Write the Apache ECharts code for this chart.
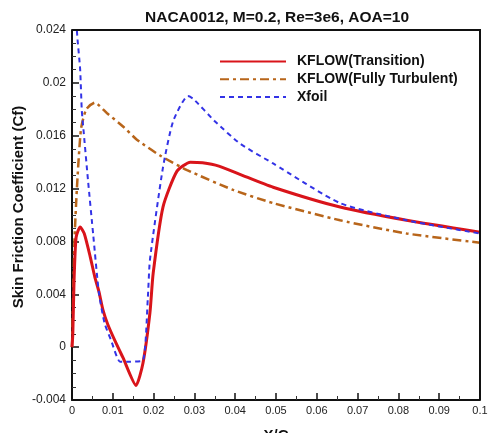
<!DOCTYPE html>
<html><head><meta charset="utf-8">
<script src="https://cdn.jsdelivr.net/npm/echarts@6/dist/echarts.min.js"></script>
<style>html,body{margin:0;padding:0;background:#fff}#c{width:494px;height:433px}</style>
</head><body><div id="c"></div>
<script>
const titleText = "NACA0012, M=0.2, Re=3e6, AOA=10";
const seriesNames = ["KFLOW(Transition)", "KFLOW(Fully Turbulent)", "Xfoil"];
const xTickLabels = ["0","0.01","0.02","0.03","0.04","0.05","0.06","0.07","0.08","0.09","0.1"];
const yTickLabels = ["-0.004","0","0.004","0.008","0.012","0.016","0.02","0.024"];

const transX = [0, 0.0002, 0.0005, 0.001, 0.002, 0.003, 0.0045, 0.0056, 0.0066, 0.0076, 0.0088, 0.0108, 0.0125, 0.0157, 0.0174, 0.0191, 0.0199, 0.0223, 0.0257, 0.029, 0.032, 0.036, 0.041, 0.0493, 0.0657, 0.082, 0.1];
const transY = [0.0, 0.001, 0.005, 0.0083, 0.0091, 0.0086, 0.0068, 0.0053, 0.0042, 0.0028, 0.0017, 0.0003, -0.0008, -0.0029, -0.0012, 0.0026, 0.0056, 0.0106, 0.0133, 0.0140, 0.01395, 0.0137, 0.0131, 0.0121, 0.0106, 0.0096, 0.0087];

const turbX = [0, 0.0003, 0.0006, 0.0012, 0.0022, 0.0035, 0.0056, 0.0086, 0.0125, 0.0159, 0.0216, 0.0282, 0.0395, 0.0493, 0.0657, 0.082, 0.1];
const turbY = [0.0, 0.004, 0.008, 0.012, 0.0165, 0.018, 0.0185, 0.0177, 0.0167, 0.0157, 0.0145, 0.0134, 0.0119, 0.0109, 0.0096, 0.0086, 0.0079];

const xfoilX = [0.0008, 0.0013, 0.002, 0.0024, 0.0028, 0.0039, 0.0052, 0.0066, 0.008, 0.0096, 0.0118, 0.0142, 0.0174, 0.0186, 0.0191, 0.0223, 0.0248, 0.0284, 0.0297, 0.035, 0.0412, 0.0493, 0.0657, 0.082, 0.1];
const xfoilY = [0.026, 0.0235, 0.021, 0.0179, 0.0165, 0.0127, 0.0085, 0.0041, 0.0018, 0.0005, -0.0011, -0.0011, -0.001, 0.0038, 0.0066, 0.0136, 0.0171, 0.019, 0.0188, 0.0171, 0.0154, 0.0139, 0.0109, 0.0096, 0.0086];

const pairs = (xs, ys) => xs.map((x, i) => [x, ys[i]]);
const font = "Arial, 'Liberation Sans', sans-serif";

const chart = echarts.init(document.getElementById('c'), null, {renderer: 'canvas'});
chart.setOption({
  animation: false,
  backgroundColor: '#fff',
  title: {
    text: titleText, left: 140, top: 5,
    textStyle: {fontFamily: font, fontSize: 15.5, fontWeight: 'bold', color: '#111'}
  },
  legend: {
    orient: 'vertical', left: 214, top: 49.5, itemWidth: 66, itemHeight: 14, itemGap: 3.7,
    itemStyle: {opacity: 0},
    textStyle: {fontFamily: font, fontSize: 14, fontWeight: 'bold', color: '#111', padding: [0, 0, 0, 6]},
    data: seriesNames
  },
  grid: {left: 72, right: 14, top: 30, bottom: 33, show: false, containLabel: false, outerBoundsMode: 'none'},
  xAxis: {
    type: 'value', min: 0, max: 0.1, interval: 0.01,
    name: 'X/C', nameLocation: 'middle', nameGap: 28, nameMoveOverlap: false,
    nameTextStyle: {fontFamily: font, fontSize: 15, fontWeight: 'bold', color: '#111'},
    axisLine: {show: true, onZero: false, lineStyle: {color: '#111', width: 2}},
    axisTick: {show: true, inside: true, length: 7, lineStyle: {color: '#111', width: 1.5}},
    minorTick: {show: true, splitNumber: 2, length: 4, lineStyle: {color: '#333', width: 1}},
    splitLine: {show: false},
    axisLabel: {fontFamily: font, fontSize: 11, color: '#222', margin: 5, showMaxLabel: true,
      formatter: (v) => { const i = Math.round(v / 0.01); return xTickLabels[i] ?? ''; }}
  },
  yAxis: {
    type: 'value', min: -0.004, max: 0.024, interval: 0.004,
    name: 'Skin Friction Coefficient (Cf)', nameLocation: 'middle', nameGap: 46, nameMoveOverlap: false,
    nameTextStyle: {fontFamily: font, fontSize: 15, fontWeight: 'bold', color: '#111', padding: [0, 0, 0, 16]},
    axisLine: {show: true, onZero: false, lineStyle: {color: '#111', width: 2}},
    axisTick: {show: true, inside: true, length: 7, lineStyle: {color: '#111', width: 1.5}},
    minorTick: {show: true, splitNumber: 4, length: 4, lineStyle: {color: '#333', width: 1}},
    splitLine: {show: false},
    axisLabel: {fontFamily: font, fontSize: 12, color: '#222', margin: 6,
      formatter: (v) => { const i = Math.round((v + 0.004) / 0.004); return yTickLabels[i] ?? ''; }}
  },
  graphic: [{
    type: 'polyline', silent: true, z: 10,
    shape: {points: [[72, 30], [480, 30], [480, 400]]},
    style: {stroke: '#111', lineWidth: 2, fill: null}
  }],
  series: [
    {name: seriesNames[0], type: 'line', data: pairs(transX, transY), symbol: 'none', smooth: 0.2, clip: true,
     lineStyle: {color: '#d9141a', width: 3}, itemStyle: {color: '#d9141a'}, z: 3},
    {name: seriesNames[1], type: 'line', data: pairs(turbX, turbY), symbol: 'none', smooth: 0.2, clip: true,
     lineStyle: {color: '#b8651a', width: 2.5, type: [9, 4, 3, 4]}, itemStyle: {color: '#b8651a'}, z: 2},
    {name: seriesNames[2], type: 'line', data: pairs(xfoilX, xfoilY), symbol: 'none', smooth: 0.2, clip: true,
     lineStyle: {color: '#3333e6', width: 2, type: [5, 4]}, itemStyle: {color: '#3333e6'}, z: 4}
  ]
});
</script></body></html>
